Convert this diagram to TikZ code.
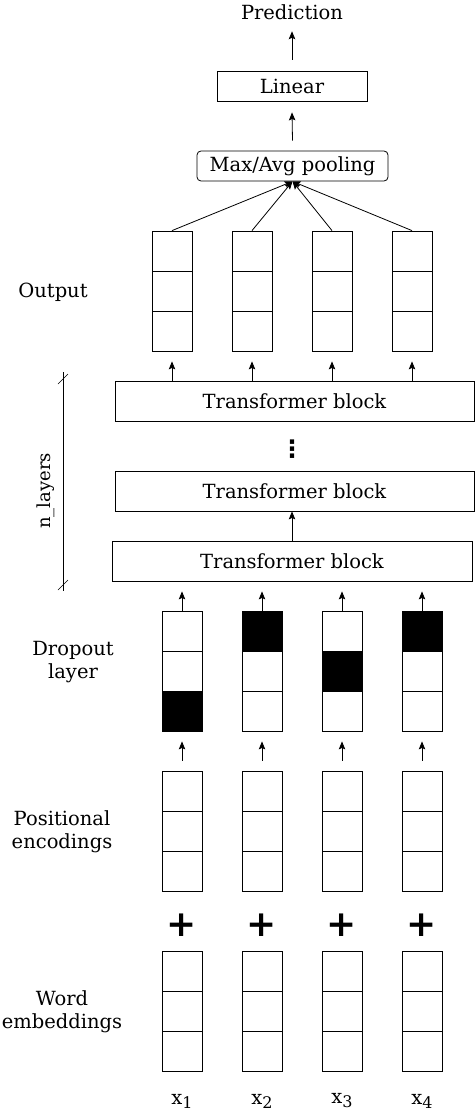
\documentclass[tikz,border=0pt]{standalone}
\usepackage{fontspec}
\setmainfont{DejaVu Serif}
\setsansfont{DejaVu Sans}
\usetikzlibrary{calc,positioning,arrows.meta}

\begin{document}
\begin{tikzpicture}[x=1pt,y=-1pt,line width=0.8pt,
  font=\fontsize{19.5}{23}\selectfont,
  cell/.style={draw,minimum width=40pt,minimum height=40pt,inner sep=0pt},
  blackcell/.style={cell,fill=black},
  block/.style={draw,minimum height=40pt,inner sep=0pt},
  side/.style={align=center},
  arr/.style={-{Stealth[length=8pt,width=6.5pt,inset=1.5pt]}}]
\useasboundingbox (0,0) rectangle (475,1115);
% top: prediction, linear, pooling
\node (pred) at (292,12) {Prediction};
\node[block,minimum width=150pt,minimum height=30pt] (lin) at (292,86) {Linear};
\node[block,rounded corners=4pt,minimum width=191pt,minimum height=30pt] (pool) at (292.5,166) {Max/Avg pooling};
\draw[arr] ($(lin.north)+(0,-11)$) -- ($(pred.south)+(0,8)$);
\draw[arr] ($(pool.north)+(0,-10)$) -- ($(lin.south)+(0,11)$);
% output columns
\node (outlab) at (53,292) {Output};
\foreach \i/\x in {1/172,2/252,3/332,4/412} {
  \foreach \r in {1,2,3}
    \node[cell] (o\i\r) at (\x,211+40*\r) {};
  \draw[arr] (o\i1.north) -- (pool.south);
}
% transformer blocks
\node[block,minimum width=359pt] (t3) at (294.5,401) {Transformer block};
\node[font=\sffamily\bfseries\fontsize{24}{24}\selectfont] (vdots) at (292,449) {⋮};
\node[block,minimum width=359pt] (t2) at (294.5,491) {Transformer block};
\node[block,minimum width=360pt] (t1) at (292,561) {Transformer block};
\draw[arr] (t1.north -| lin.south) -- (t2.south -| lin.south);
\foreach \i in {1,...,4}
  \draw[arr] (t3.north -| o\i3.south) -- ($(o\i3.south)+(0,10)$);
% n_layers bracket
\coordinate (nt) at (63,372);
\coordinate (nb) at (63,591);
\draw[line width=0.6pt] (nt) -- (nb);
\draw[line width=0.6pt] ($(nt)+(-5,12)$) -- ++(10,-10);
\draw[line width=0.6pt] ($(nb)+(-5,-1)$) -- ++(10,-10);
\node[rotate=90,font=\fontsize{18}{20}\selectfont] (nlab) at (46,491) {n\_layers};
% dropout layer
\node[side] (droplab) at (73,662) {Dropout\\layer};
\foreach \i/\x/\b in {1/182/3,2/262/1,3/342/2,4/422/1} {
  \foreach \r in {1,2,3} {
    \ifnum\r=\b
      \node[blackcell] (d\i\r) at (\x,591+40*\r) {};
    \else
      \node[cell] (d\i\r) at (\x,591+40*\r) {};
    \fi
  }
  \draw[arr] (d\i1.north) -- ($(t1.south -| d\i1.north)+(0,10)$);
}
% positional encodings
\node[side] (poslab) at (62,832) {Positional\\encodings};
\foreach \i/\x in {1/182,2/262,3/342,4/422} {
  \foreach \r in {1,2,3}
    \node[cell] (p\i\r) at (\x,751+40*\r) {};
  \draw[arr] ($(p\i1.north)+(0,-10)$) -- ($(d\i3.south)+(0,10)$);
  \node[font=\sffamily\bfseries\fontsize{36}{36}\selectfont] (plus\i) at (\x,925) {+};
}
% word embeddings
\node[side] (wordlab) at (62,1012) {Word\\embeddings};
\foreach \i/\x in {1/182,2/262,3/342,4/422} {
  \foreach \r in {1,2,3}
    \node[cell] (w\i\r) at (\x,931+40*\r) {};
  \node (x\i) at (\x,1101) {x\raisebox{-4pt}{\fontsize{16}{16}\selectfont\i}};
}
\end{tikzpicture}
\end{document}
